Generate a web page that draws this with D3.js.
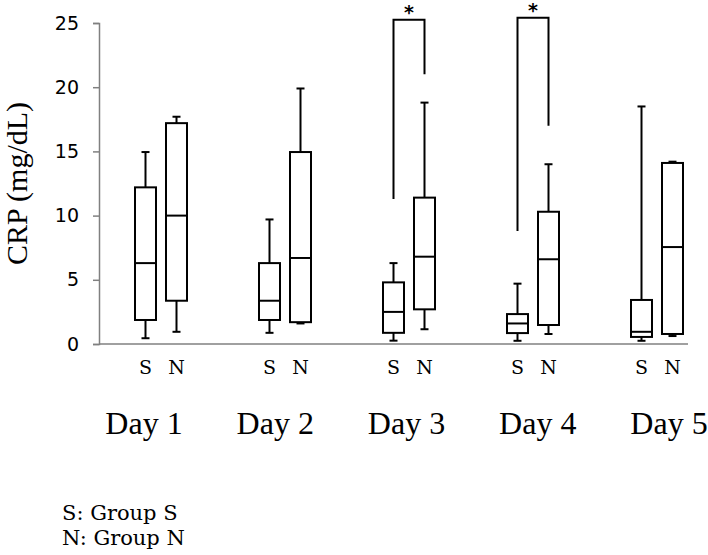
<!DOCTYPE html>
<html>
<head>
<meta charset="utf-8">
<script src="https://cdn.jsdelivr.net/npm/d3@7"></script>
<style>
  body { margin: 0; background: #fff; }
  svg { display: block; }
</style>
</head>
<body>
<svg id="chart" width="708" height="555"></svg>
<script>
// dati (CRP mg/dL)
const days = ['Day 1', 'Day 2', 'Day 3', 'Day 4', 'Day 5'];
const groups = ['S', 'N'];
const whiskerLow  = { S: [0.45, 0.87, 0.26, 0.25, 0.25], N: [0.95, 1.6, 1.15, 0.78, 0.62] };
const q1          = { S: [1.87, 1.87, 0.87, 0.85, 0.55], N: [3.37, 1.7, 2.7, 1.48, 0.78] };
const median      = { S: [6.3, 3.37, 2.5, 1.6, 0.95],    N: [10.0, 6.7, 6.8, 6.6, 7.55] };
const q3          = { S: [12.2, 6.3, 4.8, 2.33, 3.43],   N: [17.2, 14.95, 11.4, 10.3, 14.1] };
const whiskerHigh = { S: [14.95, 9.7, 6.3, 4.7, 18.5],   N: [17.7, 19.9, 18.8, 14.0, 14.2] };
const yTicks = [0, 5, 10, 15, 20, 25];

// significativita' (parentesi con asterisco)
const sigDays = ['Day 3', 'Day 4'];
const sigLeftEnd = [11.3, 8.8];
const sigRightEnd = [21.0, 17.0];
const sigTop = [25.25, 25.4];

const legendLines = ['S: Group S', 'N: Group N'];

const svg = d3.select('#chart');

const y = d3.scaleLinear().domain([0, 25]).range([344, 23]);
const x0 = d3.scaleBand().domain(days).range([99, 719]);
const x1 = d3.scalePoint().domain(groups).range([0, x0.bandwidth()]).padding(1.5);
const xLabel = d3.scalePoint().domain(days).range([144, 669]);

const cx = (day, grp) => x0(day) + x1(grp);
const boxW = 21;
const capW = 8;

// ==========================================
// ASSI
// ==========================================
const yAxis = svg.append('g')
  .attr('transform', 'translate(99,0)')
  .call(d3.axisLeft(y).tickValues(yTicks).tickSize(6).tickPadding(14));
yAxis.select('.domain').attr('stroke', '#808080').attr('stroke-width', 1.5);
yAxis.selectAll('.tick line').attr('stroke', '#808080').attr('stroke-width', 1.5);
yAxis.selectAll('.tick text')
  .attr('font-family', '"DejaVu Sans", sans-serif')
  .attr('font-size', 19)
  .attr('fill', '#000');

svg.append('line')
  .attr('x1', 99).attr('x2', 688)
  .attr('y1', y(0)).attr('y2', y(0))
  .attr('stroke', '#808080')
  .attr('stroke-width', 1.5);

svg.append('text')
  .attr('transform', `translate(27,${(y(0) + y(25)) / 2}) rotate(-90)`)
  .attr('text-anchor', 'middle')
  .attr('font-family', '"Liberation Serif", serif')
  .attr('font-size', 30)
  .text('CRP (mg/dL)');

// ==========================================
// BOX PLOT
// ==========================================
const boxes = [];
days.forEach((day, i) => {
  groups.forEach(grp => {
    boxes.push({
      day, grp,
      lo: whiskerLow[grp][i], q1: q1[grp][i], med: median[grp][i],
      q3: q3[grp][i], hi: whiskerHigh[grp][i]
    });
  });
});

const bg = svg.append('g')
  .attr('stroke', '#000')
  .attr('stroke-width', 2)
  .attr('fill', 'none');

const b = bg.selectAll('.box')
  .data(boxes)
  .enter()
  .append('g')
  .attr('class', 'box');

// baffi
b.append('line')
  .attr('x1', d => cx(d.day, d.grp)).attr('x2', d => cx(d.day, d.grp))
  .attr('y1', d => y(d.q3)).attr('y2', d => y(d.hi));
b.append('line')
  .attr('x1', d => cx(d.day, d.grp)).attr('x2', d => cx(d.day, d.grp))
  .attr('y1', d => y(d.q1)).attr('y2', d => y(d.lo));
b.append('line')
  .attr('x1', d => cx(d.day, d.grp) - capW / 2).attr('x2', d => cx(d.day, d.grp) + capW / 2)
  .attr('y1', d => y(d.hi)).attr('y2', d => y(d.hi));
b.append('line')
  .attr('x1', d => cx(d.day, d.grp) - capW / 2).attr('x2', d => cx(d.day, d.grp) + capW / 2)
  .attr('y1', d => y(d.lo)).attr('y2', d => y(d.lo));

b.append('rect')
  .attr('x', d => cx(d.day, d.grp) - boxW / 2)
  .attr('width', boxW)
  .attr('y', d => y(d.q3))
  .attr('height', d => y(d.q1) - y(d.q3))
  .attr('fill', '#fff');

b.append('line')
  .attr('x1', d => cx(d.day, d.grp) - boxW / 2).attr('x2', d => cx(d.day, d.grp) + boxW / 2)
  .attr('y1', d => y(d.med)).attr('y2', d => y(d.med));

// ==========================================
// PARENTESI DI SIGNIFICATIVITA'
// ==========================================
sigDays.forEach((day, i) => {
  const xl = cx(day, 'S');
  const xr = cx(day, 'N');
  svg.append('path')
    .attr('d', `M${xl},${y(sigLeftEnd[i])}V${y(sigTop[i])}H${xr}V${y(sigRightEnd[i])}`)
    .attr('fill', 'none')
    .attr('stroke', '#000')
    .attr('stroke-width', 2);
  svg.append('text')
    .attr('x', (xl + xr) / 2)
    .attr('y', y(sigTop[i]) - 1)
    .attr('text-anchor', 'middle')
    .attr('font-family', '"DejaVu Sans", sans-serif')
    .attr('font-weight', 'bold')
    .attr('font-size', 19)
    .text('*');
});

// ==========================================
// ETICHETTE
// ==========================================
svg.append('g').selectAll('text')
  .data(boxes)
  .enter()
  .append('text')
  .attr('x', d => cx(d.day, d.grp))
  .attr('y', 374)
  .attr('text-anchor', 'middle')
  .attr('font-family', '"DejaVu Serif", serif')
  .attr('font-size', 19)
  .text(d => d.grp);

svg.append('g').selectAll('text')
  .data(days)
  .enter()
  .append('text')
  .attr('x', d => xLabel(d))
  .attr('y', 434)
  .attr('text-anchor', 'middle')
  .attr('font-family', '"Liberation Serif", serif')
  .attr('font-size', 32)
  .text(d => d);

svg.append('g').selectAll('text')
  .data(legendLines)
  .enter()
  .append('text')
  .attr('x', 62)
  .attr('y', (d, i) => 520 + i * 25)
  .attr('font-family', '"DejaVu Serif", serif')
  .attr('font-size', 21)
  .text(d => d);
</script>
</body>
</html>
